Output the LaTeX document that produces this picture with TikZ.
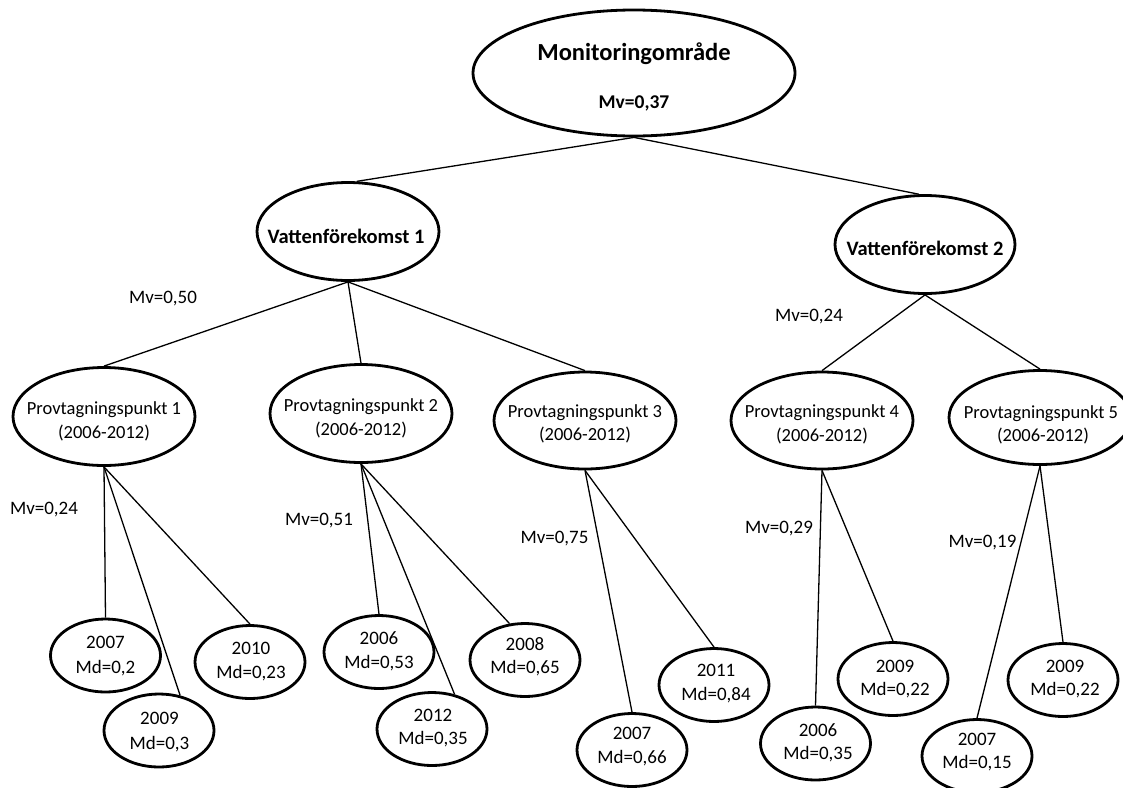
\documentclass[tikz,border=0pt]{standalone}
\usepackage{fontspec}
\setmainfont{Carlito}
\usetikzlibrary{shapes.geometric}
\begin{document}
\begin{tikzpicture}[x=1pt,y=-1pt,
  ell/.style={draw, ellipse, line width=2.8pt, inner sep=0pt},
  leaf/.style={ell, minimum width=110pt, minimum height=73pt},
  mid/.style={ell, minimum width=182pt, minimum height=97pt},
  conn/.style={line width=1.3pt},
  t/.style={anchor=base, inner sep=0pt, font=\fontsize{19}{22}\selectfont},
  tp/.style={anchor=base, inner sep=0pt, font=\fontsize{18.5}{22}\selectfont},
  tb/.style={anchor=base, inner sep=0pt, font=\fontsize{20.5}{24}\selectfont\bfseries},
]
\useasboundingbox[fill=white] (0,0) rectangle (1123,787);

% ellipses
\node[ell, minimum width=322pt, minimum height=126pt] (top) at (634,73) {};
\node[mid, minimum width=182pt, minimum height=98pt] (v1) at (348,231.5) {};
\node[mid, minimum width=180pt, minimum height=98pt] (v2) at (925,244.5) {};
\node[mid, minimum height=98pt] (p1) at (104,416.5) {};
\node[mid, minimum height=98pt] (p2) at (361,413.5) {};
\node[mid] (p3) at (585,420.5) {};
\node[mid] (p4) at (822,420.5) {};
\node[mid, minimum height=94pt] (p5) at (1040,417.5) {};

\node[leaf] (a1) at (105.5,655.5) {};
\node[leaf] (a2) at (159,730.5) {};
\node[leaf] (a3) at (250,662) {};
\node[leaf] (b1) at (379,652) {};
\node[leaf] (b2) at (432,729) {};
\node[leaf] (b3) at (525,660) {};
\node[leaf] (c1) at (632,750) {};
\node[leaf] (c2) at (714,685) {};
\node[leaf] (d1) at (815.5,743.5) {};
\node[leaf] (d2) at (893,679) {};
\node[leaf] (e1) at (977,756) {};
\node[leaf] (e2) at (1063,680) {};

% connectors
\draw[conn] (top.south) -- (v1.80);
\draw[conn] (top.south) -- (v2.97);
\draw[conn] (v1.south) -- (p1.north);
\draw[conn] (v1.south) -- (p2.north);
\draw[conn] (v1.south) -- (p3.north);
\draw[conn] (v2.south) -- (p4.north);
\draw[conn] (v2.south) -- (p5.north);
\draw[conn] (p1.south) -- (a1.north);
\draw[conn] (p1.south) -- (a2.59);
\draw[conn] (p1.south) -- (a3.north);
\draw[conn] (p2.south) -- (b1.north);
\draw[conn] (p2.south) -- (b2.57);
\draw[conn] (p2.south) -- (b3.113);
\draw[conn] (p3.south) -- (c1.north);
\draw[conn] (p3.south) -- (c2.north);
\draw[conn] (p4.south) -- (d1.north);
\draw[conn] (p4.south) -- (d2.north);
\draw[conn] (p5.south) -- (e1.north);
\draw[conn] (p5.south) -- (e2.north);

% texts in ellipses
\node[tb, font=\fontsize{24.5}{28}\selectfont\bfseries] (topt) at (634,60) {Monitoringområde};
\node[tb, font=\fontsize{19.5}{24}\selectfont\bfseries] (topv) at (634,108) {Mv=0,37};
\node[tb] (v1t) at (346,243) {Vattenförekomst 1};
\node[tb] (v2t) at (925,255) {Vattenförekomst 2};

\node[tp] (p1a) at (104,414) {Provtagningspunkt 1};
\node[tp] (p1b) at (104,438) {(2006-2012)};
\node[tp] (p2a) at (361,411) {Provtagningspunkt 2};
\node[tp] (p2b) at (361,435) {(2006-2012)};
\node[tp] (p3a) at (585,417) {Provtagningspunkt 3};
\node[tp] (p3b) at (585,440) {(2006-2012)};
\node[tp] (p4a) at (822,417) {Provtagningspunkt 4};
\node[tp] (p4b) at (822,441) {(2006-2012)};
\node[tp] (p5a) at (1041,418) {Provtagningspunkt 5};
\node[tp] (p5b) at (1043,441) {(2006-2012)};

\node[t] (a1y) at (105.5,648) {2007};
\node[t] (a1m) at (105.5,673) {Md=0,2};
\node[t] (a2y) at (159.5,724) {2009};
\node[t] (a2m) at (159.5,749) {Md=0,3};
\node[t] (a3y) at (251,654) {2010};
\node[t] (a3m) at (251,678) {Md=0,23};
\node[t] (b1y) at (379,644) {2006};
\node[t] (b1m) at (379,668) {Md=0,53};
\node[t] (b2y) at (433,721) {2012};
\node[t] (b2m) at (433,744) {Md=0,35};
\node[t] (b3y) at (525,650) {2008};
\node[t] (b3m) at (525,673) {Md=0,65};
\node[t] (c1y) at (632,739) {2007};
\node[t] (c1m) at (632,763) {Md=0,66};
\node[t] (c2y) at (716,676) {2011};
\node[t] (c2m) at (716,700) {Md=0,84};
\node[t] (d1y) at (818,736) {2006};
\node[t] (d1m) at (818,759) {Md=0,35};
\node[t] (d2y) at (895,672) {2009};
\node[t] (d2m) at (895,695) {Md=0,22};
\node[t] (e1y) at (977,745) {2007};
\node[t] (e1m) at (977,768) {Md=0,15};
\node[t] (e2y) at (1065,672) {2009};
\node[t] (e2m) at (1065,695) {Md=0,22};

% mean value labels
\node[t] (mv50) at (163,303) {Mv=0,50};
\node[t] (mv24b) at (809,321) {Mv=0,24};
\node[t] (mv24a) at (44,514) {Mv=0,24};
\node[t] (mv51) at (319,525) {Mv=0,51};
\node[t] (mv75) at (554.5,543) {Mv=0,75};
\node[t] (mv29) at (779,533) {Mv=0,29};
\node[t] (mv19) at (982.5,547) {Mv=0,19};
\end{tikzpicture}
\end{document}
